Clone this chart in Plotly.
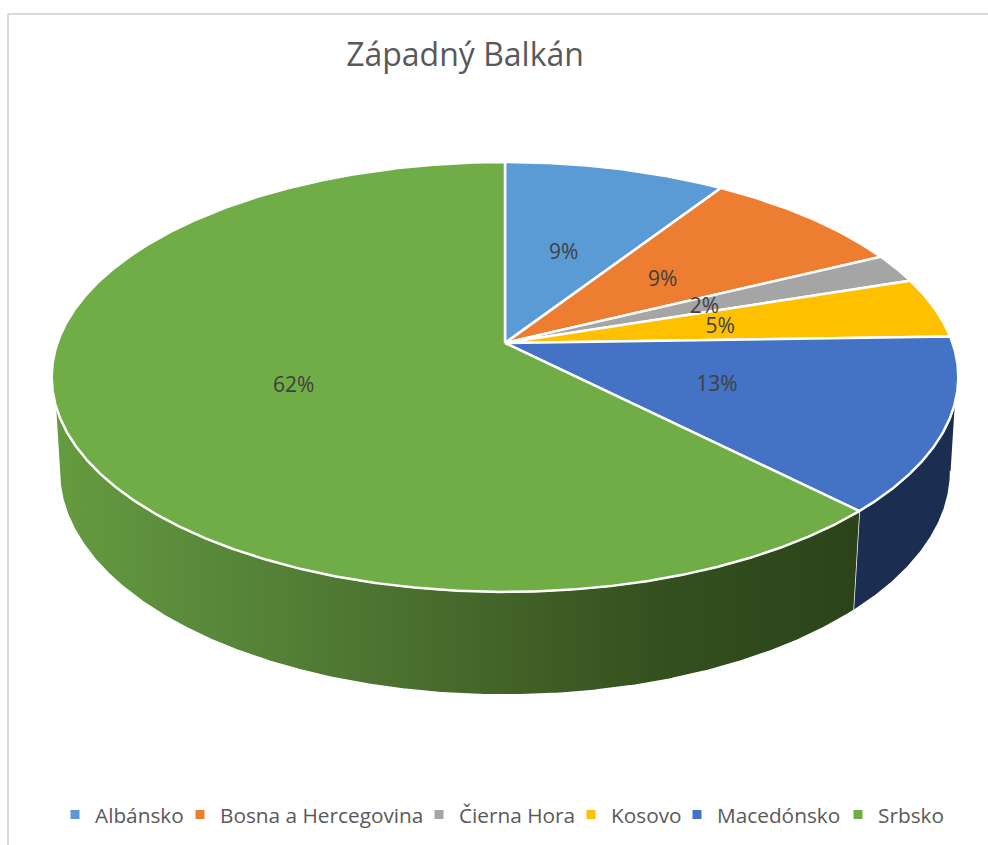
import numpy as np
import plotly.graph_objects as go

# --- data ---
categories = ["Albánsko", "Bosna a Hercegovina", "Čierna Hora", "Kosovo", "Macedónsko", "Srbsko"]
shares = [9.2, 8.55, 2.2, 4.55, 13.1, 62.4]
title_text = "Západný Balkán"

# --- style ---
top_colors = ["#5B9BD5", "#ED7D31", "#A5A5A5", "#FFC000", "#4472C4", "#70AD47"]
side_navy = "#1B2D50"
side_green_scale = [[0, "#659B40"], [0.25, "#558338"], [0.5, "#47692B"], [0.75, "#34501F"], [1, "#2C431A"]]
legend_text_x = [95, 220, 459, 611, 717, 878]

# --- geometry of the tilted disc (page pixels) ---
CX, CY, A, B, K = 505.0, 343.0, 447.6, 209.6, 0.158
SCALE_X, SCALE_Y, CY2 = 0.983, 1.04, 436.0
W, H = 988, 845
LABEL_R, LABEL_DY = 0.495, 3.0


def project(theta_deg, r=1.0, bottom=False):
    t = np.radians(theta_deg)
    u, v = r * np.sin(t), r * np.cos(t)
    d = 1 + K * v
    if bottom:
        return CX + SCALE_X * A * u / d, CY2 - SCALE_Y * B * v / d
    return CX + A * u / d, CY - B * v / d


def arc(a0, a1, bottom=False):
    n = max(2, int(abs(a1 - a0) * 3))
    return project(np.linspace(a0, a1, n), bottom=bottom)


total = sum(shares)
edges = np.cumsum([0] + shares) / total * 360.0
mids = (edges[:-1] + edges[1:]) / 2

fig = go.Figure()

# side walls: Macedónsko and Srbsko are the two slices facing the viewer
mac_end, right_top, right_bot = edges[5], 106.0, 99.0
left_top, left_bot = 254.0, 261.0
tx, ty = arc(right_top, mac_end)
bx, by = arc(mac_end, right_bot, bottom=True)
fig.add_trace(go.Scatter(x=np.r_[tx, bx], y=np.r_[ty, by], mode="lines", fill="toself",
                         fillcolor=side_navy, line=dict(color="white", width=1.5),
                         hoverinfo="skip", showlegend=False))
tx, ty = arc(mac_end, left_top)
bx, by = arc(left_bot, mac_end, bottom=True)
fig.add_trace(go.Scatter(x=np.r_[tx, bx], y=np.r_[ty, by], mode="lines", fill="toself",
                         fillgradient=dict(type="horizontal", colorscale=side_green_scale),
                         line=dict(color="white", width=1.5),
                         hoverinfo="skip", showlegend=False))

# top face slices
for name, val, c, a0, a1 in zip(categories, shares, top_colors, edges[:-1], edges[1:]):
    ax, ay = arc(a0, a1)
    fig.add_trace(go.Scatter(x=np.r_[CX, ax, CX], y=np.r_[CY, ay, CY], mode="lines", fill="toself",
                             fillcolor=c, line=dict(color="white", width=2.5),
                             name=name, text=f"{name}: {val:.0f}%", hoverinfo="text",
                             hoveron="fills", showlegend=False))

# data labels
lx, ly = project(mids, r=LABEL_R)
fig.add_trace(go.Scatter(x=lx, y=ly + LABEL_DY, mode="text",
                         text=[f"{v / total * 100:.0f}%" for v in shares],
                         textposition="middle center",
                         textfont=dict(family="Open Sans", size=21, color="#404040"),
                         hoverinfo="skip", showlegend=False))

# one legend per entry, so each entry can sit where the original has it
legend_layout = {}
for i, (name, c, tx0) in enumerate(zip(categories, top_colors, legend_text_x)):
    key = "legend" if i == 0 else f"legend{i + 1}"
    fig.add_trace(go.Scatter(x=[None], y=[None], mode="markers", name=name, legend=key,
                             marker=dict(symbol="square", size=9, color=c)))
    legend_layout[key] = dict(x=(tx0 - 40) / W, y=1 - 815 / H, xanchor="left", yanchor="middle",
                              bgcolor="rgba(0,0,0,0)", borderwidth=0,
                              font=dict(family="Open Sans", size=20.8, color="#595959"))

frame_color = "#D9D9D9"
fig.update_layout(
    width=W, height=H, margin=dict(l=0, r=0, t=0, b=0),
    paper_bgcolor="white", plot_bgcolor="white", showlegend=True,
    title=dict(text=title_text, x=465 / W, xanchor="center", y=1 - 55 / H, yanchor="middle",
               font=dict(family="Open Sans", size=32, color="#595959")),
    xaxis=dict(range=[0, W], visible=False, fixedrange=True),
    yaxis=dict(range=[H, 0], visible=False, fixedrange=True),
    shapes=[
        dict(type="line", xref="paper", yref="paper", x0=8 / W, x1=1, y0=1 - 14 / H, y1=1 - 14 / H,
             line=dict(color=frame_color, width=2)),
        dict(type="line", xref="paper", yref="paper", x0=8 / W, x1=8 / W, y0=1 - 14 / H, y1=0,
             line=dict(color=frame_color, width=2)),
    ],
    **legend_layout,
)

fig.write_html("out.html", config={"displayModeBar": False},
               post_script="document.body.style.margin='0';document.documentElement.style.overflow='hidden';")
